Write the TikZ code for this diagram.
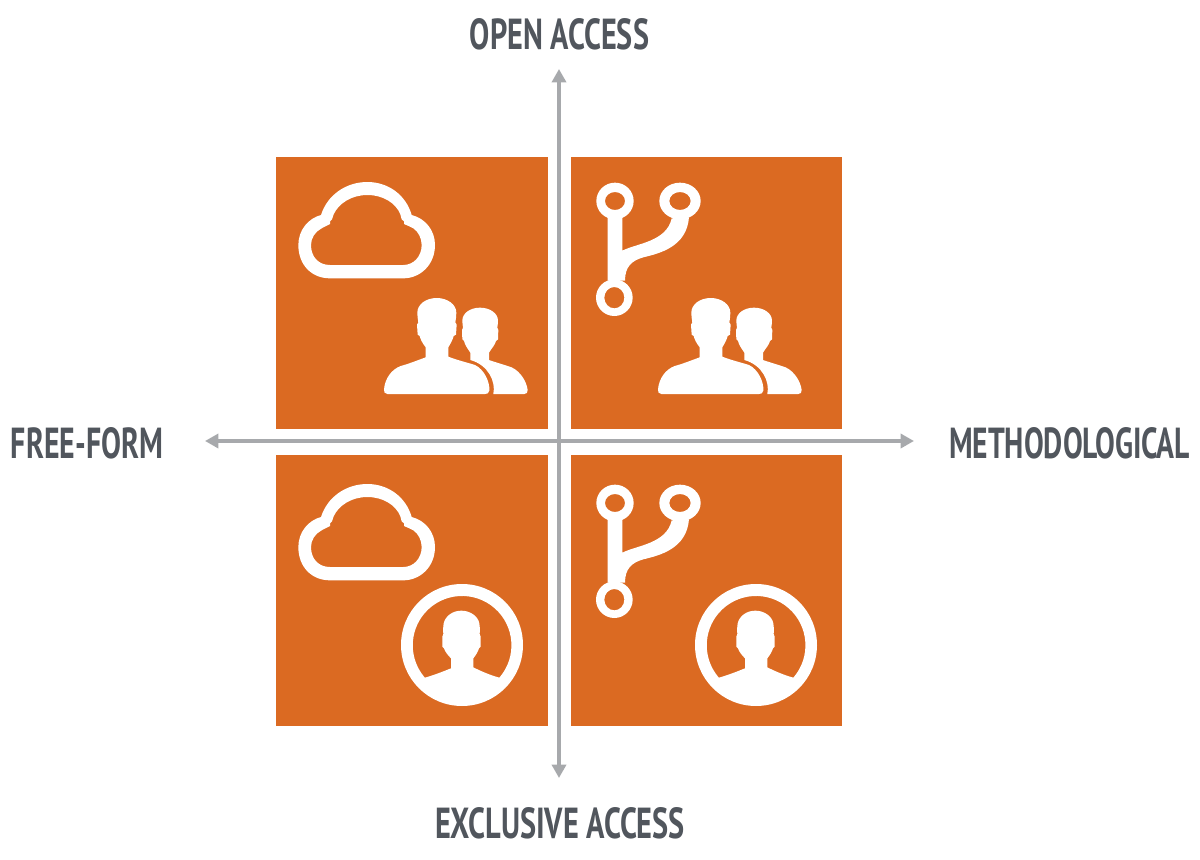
\documentclass[tikz,border=0pt]{standalone}
\usepackage{fontspec}
\usepackage{graphicx}
\setmainfont{PT Sans}
\usetikzlibrary{arrows.meta}
\definecolor{quadorange}{HTML}{DB6A22}
\definecolor{axisgray}{HTML}{A7A9AC}
\definecolor{labelgray}{HTML}{51565D}
\tikzset{
  quad/.style={fill=quadorange,draw=none},
  axis/.style={draw=axisgray,line width=2.6pt,{Triangle[length=10pt,width=10.5pt]}-{Triangle[length=10pt,width=10.5pt]}},
  axislabel/.style={inner sep=0pt,text=labelgray,font=\bfseries},
  cloudicon/.pic={
    \begin{scope}[scale=1/3]
    \fill[white,even odd rule]
      (55,255) .. controls (55,210) and (85,175) .. (123,165)
      .. controls (142,105) and (198,66) .. (262,66)
      .. controls (325,66) and (378,105) .. (395,165)
      .. controls (435,175) and (465,210) .. (465,255)
      .. controls (465,315) and (420,355) .. (370,355)
      -- (150,355)
      .. controls (95,355) and (55,315) .. (55,255) -- cycle
      (93,255) .. controls (93,235) and (105,215) .. (125,205)
      -- (136,199) -- (150,192) -- (150,184) -- (156,178) -- (161,163)
      .. controls (176,130) and (215,105) .. (262,105)
      .. controls (310,105) and (348,130) .. (361,163)
      -- (365,178) -- (372,184) -- (372,192) -- (388,199) -- (400,205)
      .. controls (415,215) and (425,235) .. (425,255)
      .. controls (425,290) and (400,315) .. (370,315)
      -- (150,315)
      .. controls (115,315) and (93,290) .. (93,255) -- cycle;
    \end{scope}
  },
  forkicon/.pic={
    \begin{scope}[scale=1/3]
    \fill[white,even odd rule] (135,123) ellipse [x radius=56,y radius=55] (135,123) ellipse [x radius=30,y radius=27];
    \fill[white,even odd rule] (330,123) ellipse [x radius=62,y radius=55] (330,123) ellipse [x radius=32,y radius=27];
    \fill[white,even odd rule] (133,413) ellipse [x radius=55,y radius=55] (133,413) ellipse [x radius=30,y radius=32];
    \fill[white] (113,172) -- (157,172) -- (157,272)
      .. controls (200,250) and (290,245) .. (305,175)
      -- (357,172)
      .. controls (350,260) and (270,280) .. (220,292)
      .. controls (185,302) and (165,320) .. (165,362)
      -- (113,362) -- cycle;
    \end{scope}
  },
  peopleicon/.pic={
    \begin{scope}[scale=1/3]
    \fill[white] (437,592) -- (437,562)
      .. controls (428,550) and (422,540) .. (419,528)
      -- (413,524) -- (411,494) -- (415,487)
      .. controls (413,475) and (412,468) .. (412,458)
      .. controls (412,433) and (438,414) .. (470,414)
      .. controls (502,414) and (529,433) .. (529,458)
      .. controls (529,468) and (528,475) .. (526,487)
      -- (530,494) -- (528,524) -- (521,528)
      .. controls (518,540) and (512,550) .. (505,562)
      -- (505,590)
      .. controls (530,600) and (560,607) .. (585,615)
      .. controls (612,628) and (630,665) .. (628,692)
      .. controls (626,700) and (622,702) .. (615,702)
      -- (322,702)
      .. controls (314,702) and (311,695) .. (312,688)
      .. controls (315,655) and (335,628) .. (362,618)
      .. controls (385,612) and (415,600) .. (437,592) -- cycle;
    \fill[white] (571,600) -- (571,578)
      .. controls (562,565) and (555,555) .. (552,543)
      -- (547,538) -- (546,510) -- (549,503)
      .. controls (548,495) and (547,488) .. (547,482)
      .. controls (547,460) and (570,443) .. (600,443)
      .. controls (630,443) and (654,460) .. (654,482)
      .. controls (654,488) and (653,495) .. (652,503)
      -- (655,510) -- (654,538) -- (648,543)
      .. controls (645,555) and (635,565) .. (627,578)
      -- (627,600)
      .. controls (650,608) and (675,615) .. (695,622)
      .. controls (722,635) and (740,665) .. (743,690)
      .. controls (743,698) and (740,702) .. (733,702)
      -- (640,702)
      .. controls (648,665) and (625,615) .. (571,600) -- cycle;
    \end{scope}
  },
  personicon/.pic={
    \begin{scope}[scale=1/3]
    \fill[white,even odd rule] (228,225) circle [radius=183]
      (340,323) arc [start angle=41,end angle=-221,radius=148]
      .. controls (145,315) and (170,305) .. (195,295)
      -- (195,265)
      .. controls (185,255) and (177,245) .. (174,235)
      -- (169,230) -- (169,200) -- (172,192)
      .. controls (171,180) and (171,170) .. (173,160)
      .. controls (178,138) and (200,122) .. (226,122)
      .. controls (252,122) and (276,138) .. (280,160)
      .. controls (282,170) and (282,180) .. (281,192)
      -- (284,200) -- (284,230) -- (279,235)
      .. controls (276,245) and (270,255) .. (262,265)
      -- (262,292)
      .. controls (288,305) and (312,315) .. (340,323) -- cycle;
    \end{scope}
  }
}
\begin{document}
\begin{tikzpicture}[x=0.75pt,y=-0.75pt]
\useasboundingbox (0,0) rectangle (1200,860);
% quadrants
\fill[quad] (276,157) rectangle (548,429);
\fill[quad] (571,157) rectangle (842,429);
\fill[quad] (276,455) rectangle (548,726);
\fill[quad] (571,455) rectangle (842,726);
% axes
\coordinate (west) at (205,441);
\coordinate (east) at (914,441);
\coordinate (north) at (559,69);
\coordinate (south) at (559,778);
\draw[axis] (west) -- (east);
\draw[axis] (south) -- (north);
% icons
\pic at (280,160) {cloudicon};
\pic at (280,462) {cloudicon};
\pic at (570,160) {forkicon};
\pic at (570,462) {forkicon};
\pic at (280,160) {peopleicon};
\pic at (554,160) {peopleicon};
\pic at (386,570) {personicon};
\pic at (680,570) {personicon};
% labels
\node[axislabel] (lopen) at (559.5,34) {\resizebox{134.25pt}{23.25pt}{OPEN ACCESS}};
\node[axislabel] (lfree) at (87,443.5) {\resizebox{114pt}{23.25pt}{FREE-FORM}};
\node[axislabel] (lmeth) at (1069.5,443.5) {\resizebox{180.75pt}{23.25pt}{METHODOLOGICAL}};
\node[axislabel] (lexcl) at (560,823) {\resizebox{187.5pt}{23.25pt}{EXCLUSIVE ACCESS}};
\end{tikzpicture}
\end{document}
